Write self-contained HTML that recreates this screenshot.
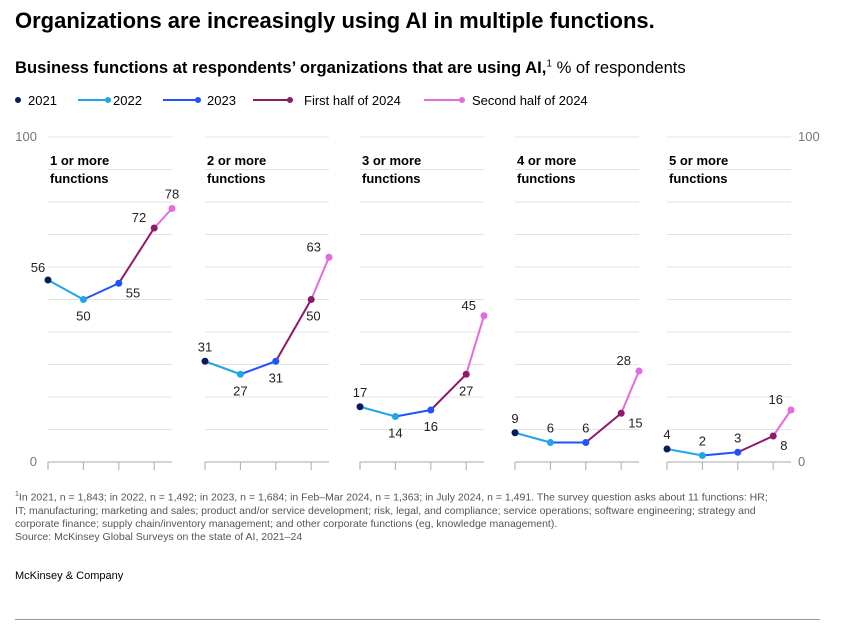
<!DOCTYPE html>
<html><head><meta charset="utf-8">
<style>
body{margin:0;background:#fff;font-family:"Liberation Sans",sans-serif;}
#wrap{position:relative;width:841px;height:636px;overflow:hidden;}
.t{position:absolute;white-space:nowrap;color:#000;}
</style></head><body>
<div id="wrap">
<div class="t" style="left:15px;top:8px;font-size:22px;font-weight:bold;">Organizations are increasingly using AI in multiple functions.</div>
<div class="t" style="left:15px;top:58px;font-size:16.6px;"><b>Business functions at respondents’ organizations that are using AI,</b><sup style="font-size:10px">1</sup> % of respondents</div>
<svg id="svg" width="841" height="636" style="position:absolute;left:0;top:0"></svg>
<div class="t" style="left:15px;top:488px;font-size:10.5px;line-height:13px;color:#555;white-space:normal;width:762px;"><sup style="font-size:7px">1</sup>In 2021, n = 1,843; in 2022, n = 1,492; in 2023, n = 1,684; in Feb–Mar 2024, n = 1,363; in July 2024, n = 1,491. The survey question asks about 11 functions: HR; IT; manufacturing; marketing and sales; product and/or service development; risk, legal, and compliance; service operations; software engineering; strategy and corporate finance; supply chain/inventory management; and other corporate functions (eg, knowledge management).<br>Source: McKinsey Global Surveys on the state of AI, 2021–24</div>
<div class="t" style="left:15px;top:570px;font-size:11px;">McKinsey &amp; Company</div>
<div style="position:absolute;left:15px;top:619px;width:805px;height:1px;background:#999;"></div>
</div>
<script>
const periods=["2021","2022","2023","First half of 2024","Second half of 2024"];
const colors=["#051c5a","#1fa6e8","#2251ff","#8c1a6a","#e46bdc"];
const panelTitles=[["1 or more","functions"],["2 or more","functions"],["3 or more","functions"],["4 or more","functions"],["5 or more","functions"]];
const values=[[56,50,55,72,78],[31,27,31,50,63],[17,14,16,27,45],[9,6,6,15,28],[4,2,3,8,16]];
const labelPos=[["al","b","r","l","a"],["a","b","b","br","l"],["a","b","b","b","l"],["a","a","a","r","l"],["a","a","a","r","l"]];
const yTicks=[0,10,20,30,40,50,60,70,80,90,100];
const svg=document.getElementById('svg');const NS="http://www.w3.org/2000/svg";
function mk(t,a){const e=document.createElementNS(NS,t);for(const k in a)e.setAttribute(k,a[k]);svg.appendChild(e);return e;}
const y0=462,yS=3.25;const y=v=>y0-v*yS;
const panelX=[48,205,360,515,667],pw=124,step=35.4;
const x=(p,i)=>panelX[p]+(i<4?i*step:pw);
const lx=[[18,18],[78,108],[163,198],[253,290],[424,462]],tx=[28,113,207,304,472];
periods.forEach((p,i)=>{
 if(i>0){const l=mk('line',{x1:lx[i][0],x2:lx[i][1],y1:100,y2:100,stroke:colors[i],'stroke-width':2});
 
 }
 const c=mk('circle',{cx:lx[i][1],cy:100,r:3,fill:colors[i]});
 
 
 const t=mk('text',{x:tx[i],y:105,'font-size':13,fill:'#000'});t.textContent=p;
 
 
});
[[0,'0'],[100,'100']].forEach(([v,s])=>{
 const a=mk('text',{x:37,y:y(v)+4,'font-size':13,fill:'#777','text-anchor':'end'});a.textContent=s;
 
 
 const b=mk('text',{x:798,y:y(v)+4,'font-size':13,fill:'#777'});b.textContent=s;
 
 
});
values.forEach((vals,p)=>{
 const x0=panelX[p];
 yTicks.forEach(v=>{if(v===0)return;const g=mk('line',{x1:x0,x2:x0+pw,y1:y(v),y2:y(v),stroke:'#e3e3e3','stroke-width':1});
 
 });
 const ax=mk('line',{x1:x0,x2:x0+pw,y1:y0,y2:y0,stroke:'#aaa','stroke-width':1});
 
 
 for(let i=0;i<4;i++){const tk=mk('line',{x1:x(p,i),x2:x(p,i),y1:y0,y2:y0+8,stroke:'#aaa','stroke-width':1});
 
 }
 panelTitles[p].forEach((s,j)=>{const t=mk('text',{x:x0+2,y:165+j*18,'font-size':13,'font-weight':'bold',fill:'#000'});t.textContent=s;
 
 });
 for(let i=1;i<5;i++){const s=mk('line',{x1:x(p,i-1),y1:y(vals[i-1]),x2:x(p,i),y2:y(vals[i]),stroke:colors[i],'stroke-width':2});
 
 }
 vals.forEach((v,i)=>{
  const c=mk('circle',{cx:x(p,i),cy:y(v),r:3.5,fill:colors[i]});
  
  
  const pos=labelPos[p][i];let lx=x(p,i),ly=y(v),an='middle';
  if(pos==='a'){ly-=10;}else if(pos==='al'){lx-=10;ly-=8;}else if(pos==='b'){ly+=21;}
  else if(pos==='r'){lx+=7;ly+=14;an='start';}else if(pos==='br'){lx-=5;ly+=21;an='start';}
  else if(pos==='l'){lx-=8;ly-=6;an='end';}
  const t=mk('text',{x:lx,y:ly,'font-size':13,fill:'#222','text-anchor':an});t.textContent=v;
  
  
 });
});
</script>
</body></html>
